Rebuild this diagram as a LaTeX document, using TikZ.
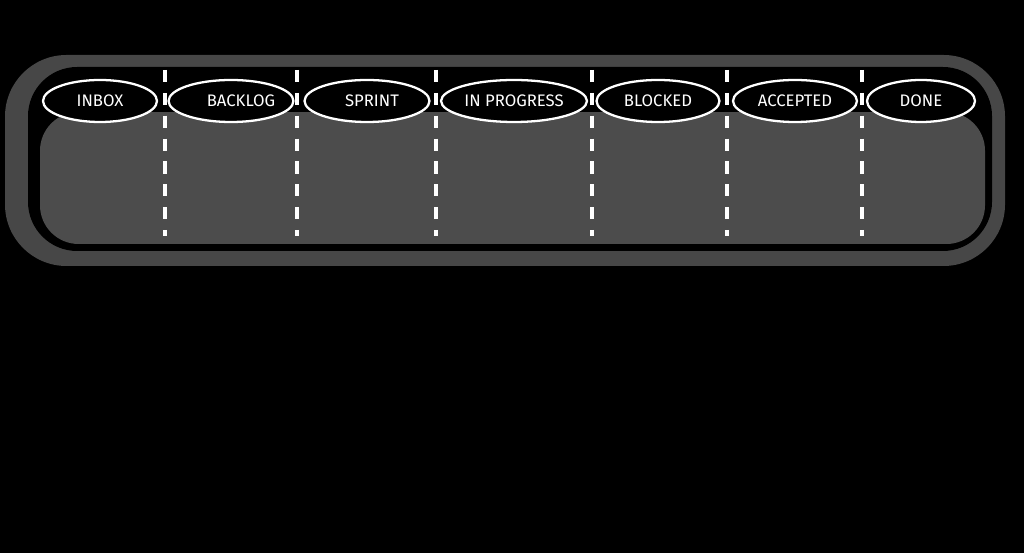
\documentclass[tikz,border=0pt]{standalone}
\usepackage{fontspec}
\setmainfont{Fira Sans}
\usetikzlibrary{shapes.geometric}

\begin{document}
\begin{tikzpicture}[x=0.02cm,y=-0.02cm,
    column/.style ={ellipse, draw=white, line width=1.3pt, fill=black, text=white,
      inner sep=0pt, minimum height=0.84cm, font=\fontsize{9.5}{11}\selectfont},
    divider/.style ={white, line width=2.2pt, dash pattern=on 7pt off 6pt}]
   \fill[black] (0,0) rectangle (1024,553);
   \fill[black!30!white!40!black, rounded corners=35] (5,55) rectangle (1005,266);
   \fill[black, rounded corners=28] (28,67) rectangle (992,251);
   \fill[black!70!white, rounded corners=22] (40,112) rectangle (985,244);
   \fill[black] (40,96) rectangle (985,112);

   \node[column,minimum width=2.28cm] (A)  at (100,101)  {INBOX};
   \node[column,minimum width=2.44cm] (B)  at (231,101)  {\hspace{1.2em}BACKLOG};
   \node[column,minimum width=2.50cm] (C)  at (367,101)  {\hspace{0.6em}SPRINT};
   \node[column,minimum width=2.92cm] (D)  at (514,101)  {IN PROGRESS};
   \node[column,minimum width=2.46cm] (E)  at (658,101)  {BLOCKED};
   \node[column,minimum width=2.48cm] (F)  at (795,101)  {ACCEPTED};
   \node[column,minimum width=2.16cm] (G)  at (921,101)  {DONE};

   \foreach \x in {165,297,436,592,727,862}
     \draw[divider] (\x,70) -- (\x,236);
 \end{tikzpicture}
\end{document}
